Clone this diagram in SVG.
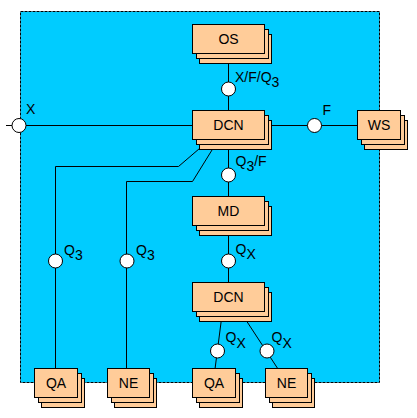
<svg xmlns="http://www.w3.org/2000/svg" width="417" height="418" viewBox="0 0 417 418">
<style>
.bg{fill:#00CCFF;stroke:#000;stroke-width:1;stroke-dasharray:3 1}
.box{fill:#FFCC99;stroke:#000;stroke-width:1}
.ln{fill:none;stroke:#000;stroke-width:1}
.pt{fill:#fff;stroke:#000;stroke-width:1}
text{font-family:"Liberation Sans",Arial,sans-serif;font-size:14px;fill:#000}
.c{text-anchor:middle}
</style>
<rect class="bg" x="20.5" y="11.5" width="359" height="371"/>
<g id="connectors">
<path class="ln" d="M6,125.5 H193"/>
<path class="ln" d="M228.5,53 V111"/>
<path class="ln" d="M264,125.5 H358"/>
<path class="ln" d="M228.5,139 V197"/>
<path class="ln" d="M228.5,225 V283"/>
<path class="ln" d="M210,139.5 L178.5,166.5 H55.5 V369"/>
<path class="ln" d="M218.5,139.5 L192.5,181.5 H126.5 V369"/>
<path class="ln" d="M222.5,311 L215,369"/>
<path class="ln" d="M240,311 L278,369"/>
<circle class="pt" cx="19" cy="125.5" r="7"/>
<circle class="pt" cx="228.5" cy="89" r="7"/>
<circle class="pt" cx="314.5" cy="125.5" r="7"/>
<circle class="pt" cx="228.5" cy="175" r="7"/>
<circle class="pt" cx="228.5" cy="261" r="7"/>
<circle class="pt" cx="55.5" cy="261" r="7"/>
<circle class="pt" cx="127" cy="261" r="7"/>
<circle class="pt" cx="217.5" cy="351" r="7"/>
<circle class="pt" cx="267" cy="351" r="7"/>
<text x="26" y="114">X</text>
<text x="235" y="82">X/F/Q<tspan dy="4.5">3</tspan></text>
<text x="322.5" y="115">F</text>
<text x="235.5" y="166">Q<tspan dy="4.5">3</tspan><tspan dy="-4.5">/F</tspan></text>
<text x="64" y="255">Q<tspan dy="4.5">3</tspan></text>
<text x="136" y="255">Q<tspan dy="4.5">3</tspan></text>
<text x="235.5" y="253.5">Q<tspan dy="5.5">X</tspan></text>
<text x="225.5" y="342">Q<tspan dy="5.5">X</tspan></text>
<text x="271.5" y="342">Q<tspan dy="5.5">X</tspan></text>
</g>
<g id="OS">
<rect class="box" x="199.5" y="34.5" width="72" height="29"/>
<rect class="box" x="196.5" y="29.5" width="72" height="29"/>
<rect class="box" x="192.5" y="24.5" width="72" height="29"/>
<text class="c" x="228.5" y="44">OS</text>
</g>
<g id="DCN1">
<rect class="box" x="199.5" y="120.5" width="72" height="29"/>
<rect class="box" x="196.5" y="115.5" width="72" height="29"/>
<rect class="box" x="192.5" y="110.5" width="72" height="29"/>
<text class="c" x="228.5" y="130">DCN</text>
</g>
<g id="WS">
<rect class="box" x="364.5" y="120.5" width="43" height="29"/>
<rect class="box" x="361.5" y="115.5" width="43" height="29"/>
<rect class="box" x="357.5" y="110.5" width="43" height="29"/>
<text class="c" x="379" y="130">WS</text>
</g>
<g id="MD">
<rect class="box" x="199.5" y="206.5" width="72" height="29"/>
<rect class="box" x="196.5" y="201.5" width="72" height="29"/>
<rect class="box" x="192.5" y="196.5" width="72" height="29"/>
<text class="c" x="228.5" y="216">MD</text>
</g>
<g id="DCN2">
<rect class="box" x="199.5" y="292.5" width="72" height="29"/>
<rect class="box" x="196.5" y="287.5" width="72" height="29"/>
<rect class="box" x="192.5" y="282.5" width="72" height="29"/>
<text class="c" x="228.5" y="302">DCN</text>
</g>
<g id="QA1">
<rect class="box" x="41.5" y="378.5" width="43" height="29"/>
<rect class="box" x="38.5" y="373.5" width="43" height="29"/>
<rect class="box" x="34.5" y="368.5" width="43" height="29"/>
<text class="c" x="56" y="388">QA</text>
</g>
<g id="NE1">
<rect class="box" x="114.5" y="378.5" width="42" height="29"/>
<rect class="box" x="111.5" y="373.5" width="42" height="29"/>
<rect class="box" x="107.5" y="368.5" width="42" height="29"/>
<text class="c" x="128.5" y="388">NE</text>
</g>
<g id="QA2">
<rect class="box" x="199.5" y="378.5" width="43" height="29"/>
<rect class="box" x="196.5" y="373.5" width="43" height="29"/>
<rect class="box" x="192.5" y="368.5" width="43" height="29"/>
<text class="c" x="214" y="388">QA</text>
</g>
<g id="NE2">
<rect class="box" x="272.5" y="378.5" width="42" height="29"/>
<rect class="box" x="269.5" y="373.5" width="42" height="29"/>
<rect class="box" x="265.5" y="368.5" width="42" height="29"/>
<text class="c" x="286.5" y="388">NE</text>
</g>
</svg>
